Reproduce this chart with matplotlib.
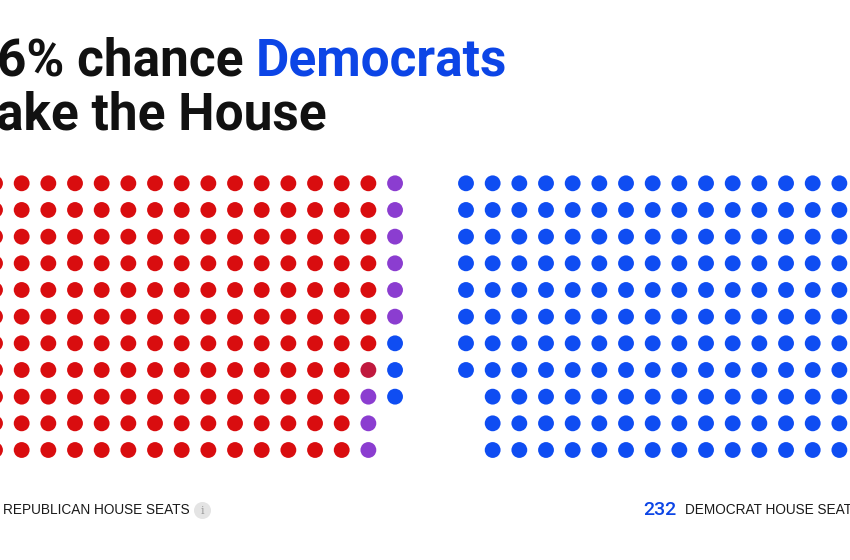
import matplotlib.pyplot as plt

# seat status per column, top row first
# R = Republican, X = leaning R (dark), P = toss-up, D = Democrat, ' ' = empty
rep_columns = ["RRRRRRRRRRR"] * 14 + ["RRRRRRRXPPP", "PPPPPPDDD  "]
dem_columns = ["DDDDDDDD   "] + ["DDDDDDDDDDD"] * 14

title_black = "6% chance "
title_blue = "Democrats"
title_line2 = "ake the House"
rep_label = "REPUBLICAN HOUSE SEATS"
dem_count = "232"
dem_label = "DEMOCRAT HOUSE SEATS"

colors = {"R": "#d90d0f", "X": "#c0193e", "P": "#8b3dd0", "D": "#0f4df2"}
blue_text = "#0c45e6"

fig = plt.figure(figsize=(8.5, 5.6), dpi=100)
fig.patch.set_facecolor("white")
ax = fig.add_axes([0, 0, 1, 1])
ax.set_xlim(0, 850)
ax.set_ylim(560, 0)
ax.axis("off")

step = 26.67
top = 183.3


def draw_block(columns, x0):
    xs, ys, cs = [], [], []
    for i, col in enumerate(columns):
        for j, seat in enumerate(col):
            if seat == " ":
                continue
            xs.append(x0 + i * step)
            ys.append(top + j * step)
            cs.append(colors[seat])
    ax.scatter(xs, ys, s=130, c=cs, linewidths=0, clip_on=False)


draw_block(rep_columns, -5)
draw_block(dem_columns, 466)

# title
tfont = "Roboto"
t1 = ax.text(-3, 75, title_black, fontsize=37, fontweight="bold", family=tfont,
             color="#111111", va="baseline")
fig.canvas.draw()
bb = t1.get_window_extent()
x_next = ax.transData.inverted().transform((bb.x1, bb.y0))[0]
ax.text(x_next, 75, title_blue, fontsize=37, fontweight="bold", family=tfont,
        color=blue_text, va="baseline")
ax.text(-4, 130, title_line2, fontsize=37, fontweight="bold", family=tfont,
        color="#111111", va="baseline")

# bottom labels
font = "Liberation Sans"
ax.text(3, 510, rep_label, fontsize=9.8, family=font, color="#1a1a1a", va="center")
ax.scatter([202.5], [510], s=150, c="#e4e4e4", linewidths=0)
ax.text(202.5, 510.5, "i", fontsize=8, family="DejaVu Serif", color="#9a9a9a",
        ha="center", va="center")
ax.text(643, 510, dem_count, fontsize=14, family=tfont, fontweight="medium",
        color=blue_text, va="center")
ax.text(685, 510, dem_label, fontsize=9.8, family=font, color="#1a1a1a", va="center")

plt.savefig("out.png", dpi=100)
